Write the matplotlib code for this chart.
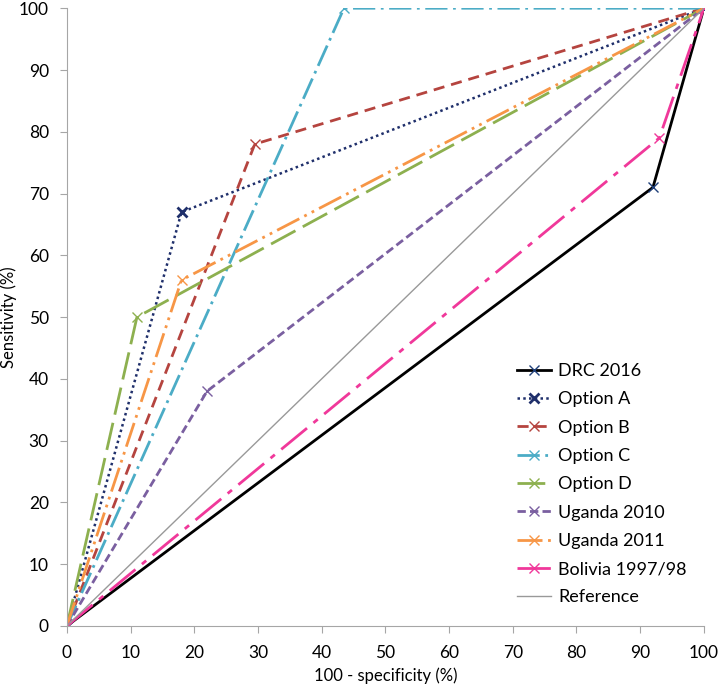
import matplotlib
matplotlib.use("Agg")
import matplotlib.pyplot as plt

plt.rcParams['font.family'] = ['Lato', 'DejaVu Sans']

# ROC points: (100 - specificity, sensitivity)
series_names = ['DRC 2016', 'Option A', 'Option B', 'Option C', 'Option D',
                'Uganda 2010', 'Uganda 2011', 'Bolivia 1997/98']
x_vals = [[0, 92, 100], [0, 18, 100], [0, 29.5, 100], [0, 43.5, 100],
          [0, 11, 100], [0, 22, 100], [0, 18, 100], [0, 93, 100]]
y_vals = [[0, 71, 100], [0, 67, 100], [0, 78, 100], [0, 100, 100],
          [0, 50, 100], [0, 38, 100], [0, 56, 100], [0, 79, 100]]
ref_x = [0, 100]
ref_y = [0, 100]

colors = ['#000000', '#1F2F6B', '#B5443F', '#4BACC6', '#8DB04F',
          '#7A5FA0', '#F79646', '#F0389A']
marker_colors = ['#1F3F7A', '#1F2F6B', '#B5443F', '#4BACC6', '#8DB04F',
                 '#7A5FA0', '#F79646', '#F0389A']
styles = ['-', (0, (1, 1.3)), (0, (4, 2.5)), (0, (8, 2, 1, 2)),
          (0, (10, 3)), (0, (3, 1.5)), (0, (9, 2, 1, 2, 1, 2)),
          (0, (12, 3, 2, 3))]
widths = [2.0, 1.8, 2.0, 2.0, 2.0, 2.0, 2.0, 2.0]

fig = plt.figure(figsize=(7.19, 6.86), dpi=100)
ax = fig.add_axes([0.093, 0.0875, 0.886, 0.9005])

for i, name in enumerate(series_names):
    mew = 2.0 if name == 'Option A' else 1.0
    ax.plot(x_vals[i], y_vals[i], color=colors[i], linestyle=styles[i],
            linewidth=widths[i], marker='x', markersize=7, markeredgewidth=mew,
            markeredgecolor=marker_colors[i], label=name)
ax.plot(ref_x, ref_y, color='#999999', linewidth=1.0, label='Reference')

ax.set_xlim(0, 100)
ax.set_ylim(0, 100)
ax.set_xticks(range(0, 101, 10))
ax.set_yticks(range(0, 101, 10))
ax.spines['top'].set_visible(False)
ax.spines['right'].set_visible(False)
for s in ['left', 'bottom']:
    ax.spines[s].set_color('#A6A6A6')
ax.tick_params(colors='#A6A6A6', labelcolor='black', labelsize=12.5, length=5)
ax.tick_params(axis='x', pad=9)
ax.tick_params(axis='y', pad=8)
ax.set_xlabel('100 - specificity (%)', fontsize=12, labelpad=4)
ax.set_ylabel('Sensitivity (%)', fontsize=12, labelpad=1)

ax.legend(loc='lower left', bbox_to_anchor=(0.681, 0.007), frameon=False,
          fontsize=13, handlelength=1.9, handletextpad=0.4, labelspacing=0.68)

fig.savefig('out.png', dpi=100)
